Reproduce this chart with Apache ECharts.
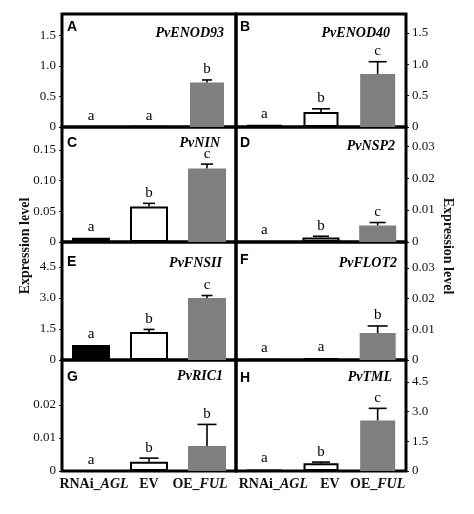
<!DOCTYPE html>
<html>
<head>
<meta charset="utf-8">
<script src="https://cdn.jsdelivr.net/npm/echarts@6/dist/echarts.min.js"></script>
<style>
html,body{margin:0;padding:0;background:#fff;}
#chart{width:474px;height:514px;}
</style>
</head>
<body>
<div id="chart"></div>
<script>
// ---- data ----
const categories = ['RNAi_AGL', 'EV', 'OE_FUL'];
const panelIds = ['A', 'B', 'C', 'D', 'E', 'F', 'G', 'H'];
const geneNames = ['PvENOD93', 'PvENOD40', 'PvNIN', 'PvNSP2', 'PvFNSII', 'PvFLOT2', 'PvRIC1', 'PvTML'];

const meanA = [0.004, 0.006, 0.73];   const errA = [0, 0, 0.04];        const sigA = ['a', 'a', 'b'];
const meanB = [0.035, 0.24, 0.845];   const errB = [0.005, 0.05, 0.195]; const sigB = ['a', 'b', 'c'];
const meanC = [0.007, 0.058, 0.12];   const errC = [0, 0.005, 0.007];   const sigC = ['a', 'b', 'c'];
const meanD = [0.0003, 0.0014, 0.0052]; const errD = [0.0001, 0.0004, 0.0009]; const sigD = ['a', 'b', 'c'];
const meanE = [0.72, 1.35, 3.0];      const errE = [0.03, 0.13, 0.12];  const sigE = ['a', 'b', 'c'];
const meanF = [0.0004, 0.0006, 0.0088]; const errF = [0.0001, 0.0001, 0.0023]; const sigF = ['a', 'a', 'b'];
const meanG = [0.0001, 0.0028, 0.0076]; const errG = [0, 0.0011, 0.0065]; const sigG = ['a', 'b', 'b'];
const meanH = [0.08, 0.39, 2.55];     const errH = [0.02, 0.06, 0.61];  const sigH = ['a', 'b', 'c'];

const ticksA = ['0', '0.5', '1.0', '1.5'];
const ticksB = ['0', '0.5', '1.0', '1.5'];
const ticksC = ['0', '0.05', '0.10', '0.15'];
const ticksD = ['0', '0.01', '0.02', '0.03'];
const ticksE = ['0', '1.5', '3.0', '4.5'];
const ticksF = ['0', '0.01', '0.02', '0.03'];
const ticksG = ['0', '0.01', '0.02'];
const ticksH = ['0', '1.5', '3.0', '4.5'];

const axisMax = [1.85, 1.8, 0.1875, 0.036, 5.71, 0.0385, 0.0336, 5.6];

const panels = [
  {mean: meanA, err: errA, sig: sigA, ticks: ticksA},
  {mean: meanB, err: errB, sig: sigB, ticks: ticksB},
  {mean: meanC, err: errC, sig: sigC, ticks: ticksC},
  {mean: meanD, err: errD, sig: sigD, ticks: ticksD},
  {mean: meanE, err: errE, sig: sigE, ticks: ticksE},
  {mean: meanF, err: errF, sig: sigF, ticks: ticksF},
  {mean: meanG, err: errG, sig: sigG, ticks: ticksG},
  {mean: meanH, err: errH, sig: sigH, ticks: ticksH}
];

// ---- layout ----
const colLeft = [62, 236];
const colWidth = [174, 170];
const rowTop = [14, 127, 242, 360];
const rowHeight = [113, 115, 118, 111];
const barWidths = [34, 35, 38, 37, 38, 36, 38, 35];
const capWidths = [10, 18, 12, 16, 11, 20, 19, 18];
const letterY = [27, 27, 143, 143, 262, 260, 377, 378];
const geneY = [33, 33, 143, 146, 263, 263, 376, 377];
const geneRight = [224, 390, 220, 395, 222, 397, 223, 392];
const labelShift = [[3, 0, -7], [9, 9, 0]];

const SERIF = '"Liberation Serif", "Times New Roman", serif';
const SANS = '"Liberation Sans", Arial, sans-serif';
const barStyles = [
  {color: '#000'},
  {color: '#fff', borderColor: '#000', borderWidth: 2},
  {color: '#7f7f7f'}
];

const grids = [], xAxes = [], yAxes = [], series = [], graphics = [];

panels.forEach((p, i) => {
  const col = i % 2, row = Math.floor(i / 2);
  grids.push({
    left: colLeft[col], top: rowTop[row], width: colWidth[col], height: rowHeight[row],
    show: true, borderColor: '#000', borderWidth: 3, backgroundColor: 'transparent'
  });
  const rich = {};
  labelShift[col].forEach((s, k) => {
    const base = {fontFamily: SERIF, fontWeight: 'bold', fontSize: 14, color: '#111'};
    rich['n' + k] = Object.assign({}, base, s > 0 ? {padding: [0, 0, 0, 2 * s]} : {});
    rich['e' + k] = Object.assign({}, base, {fontStyle: 'italic'}, s < 0 ? {padding: [0, -2 * s, 0, 0]} : {});
    rich['x' + k] = Object.assign({}, base, {padding: [0, s < 0 ? -2 * s : 0, 0, s > 0 ? 2 * s : 0]});
  });
  xAxes.push({
    type: 'category', gridIndex: i, data: categories,
    axisLine: {show: false}, axisTick: {show: false},
    axisLabel: {
      show: row === 3, interval: 0, hideOverlap: false, margin: 6, color: '#111',
      formatter: (v, idx) => {
        const k = v.indexOf('_');
        if (k < 0) return '{x' + idx + '|' + v + '}';
        return '{n' + idx + '|' + v.slice(0, k + 1) + '}{e' + idx + '|' + v.slice(k + 1) + '}';
      },
      rich: rich
    }
  });
  const tickVals = p.ticks.map(Number);
  yAxes.push({
    type: 'value', gridIndex: i, min: 0, max: axisMax[i],
    position: col === 0 ? 'left' : 'right',
    splitLine: {show: false},
    axisLine: {show: false},
    axisTick: {show: true, length: 3, customValues: tickVals, lineStyle: {color: '#000', width: 1}},
    axisLabel: {
      customValues: tickVals, margin: 6, color: '#111', fontFamily: SERIF, fontSize: 13,
      formatter: (v) => {
        for (let k = 0; k < tickVals.length; k++) {
          if (Math.abs(tickVals[k] - v) < 1e-9) return p.ticks[k];
        }
        return '';
      }
    }
  });
  series.push({
    type: 'bar', xAxisIndex: i, yAxisIndex: i, barWidth: barWidths[i], silent: true,
    animation: false,
    data: p.mean.map((v, j) => ({value: v, itemStyle: barStyles[j]}))
  });
  series.push({
    type: 'custom', xAxisIndex: i, yAxisIndex: i, silent: true, animation: false, z: 10,
    data: p.mean.map((v, j) => [j, v, p.err[j]]),
    renderItem: (params, api) => {
      const j = api.value(0), m = api.value(1), e = api.value(2);
      const base = api.coord([j, m]);
      const top = api.coord([j, m + e]);
      const children = [];
      const half = capWidths[i] / 2;
      if (e > 0 && base[1] - top[1] > 0.8) {
        children.push({type: 'line', shape: {x1: base[0], y1: base[1], x2: top[0], y2: top[1]},
          style: {stroke: '#000', lineWidth: 1.6}});
        children.push({type: 'line', shape: {x1: top[0] - half, y1: top[1], x2: top[0] + half, y2: top[1]},
          style: {stroke: '#000', lineWidth: 1.6}});
      }
      children.push({type: 'text', x: top[0], y: top[1] - 3,
        style: {text: p.sig[params.dataIndex], textAlign: 'center', textVerticalAlign: 'bottom',
          font: '15px ' + SERIF, fill: '#000'}});
      return {type: 'group', children: children};
    }
  });
  graphics.push({
    type: 'text', x: colLeft[col] + (col === 0 ? 5 : 4), y: letterY[i], silent: true,
    style: {text: panelIds[i], font: 'bold 14px ' + SANS, fill: '#000', textAlign: 'left', textVerticalAlign: 'middle'}
  });
  graphics.push({
    type: 'text', x: geneRight[i], y: geneY[i], silent: true,
    style: {text: geneNames[i], font: 'italic bold 14px ' + SERIF, fill: '#000', textAlign: 'right', textVerticalAlign: 'middle'}
  });
});

graphics.push({
  type: 'text', x: 25, y: 246, rotation: Math.PI / 2, silent: true,
  style: {text: 'Expression level', font: 'bold 14px ' + SERIF, fill: '#111', textAlign: 'center', textVerticalAlign: 'middle'}
});
graphics.push({
  type: 'text', x: 448, y: 246, rotation: -Math.PI / 2, silent: true,
  style: {text: 'Expression level', font: 'bold 14px ' + SERIF, fill: '#111', textAlign: 'center', textVerticalAlign: 'middle'}
});

const chart = echarts.init(document.getElementById('chart'), null, {renderer: 'canvas'});
chart.setOption({
  backgroundColor: '#fff',
  animation: false,
  grid: grids,
  xAxis: xAxes,
  yAxis: yAxes,
  series: series,
  graphic: graphics
});
</script>
</body>
</html>
